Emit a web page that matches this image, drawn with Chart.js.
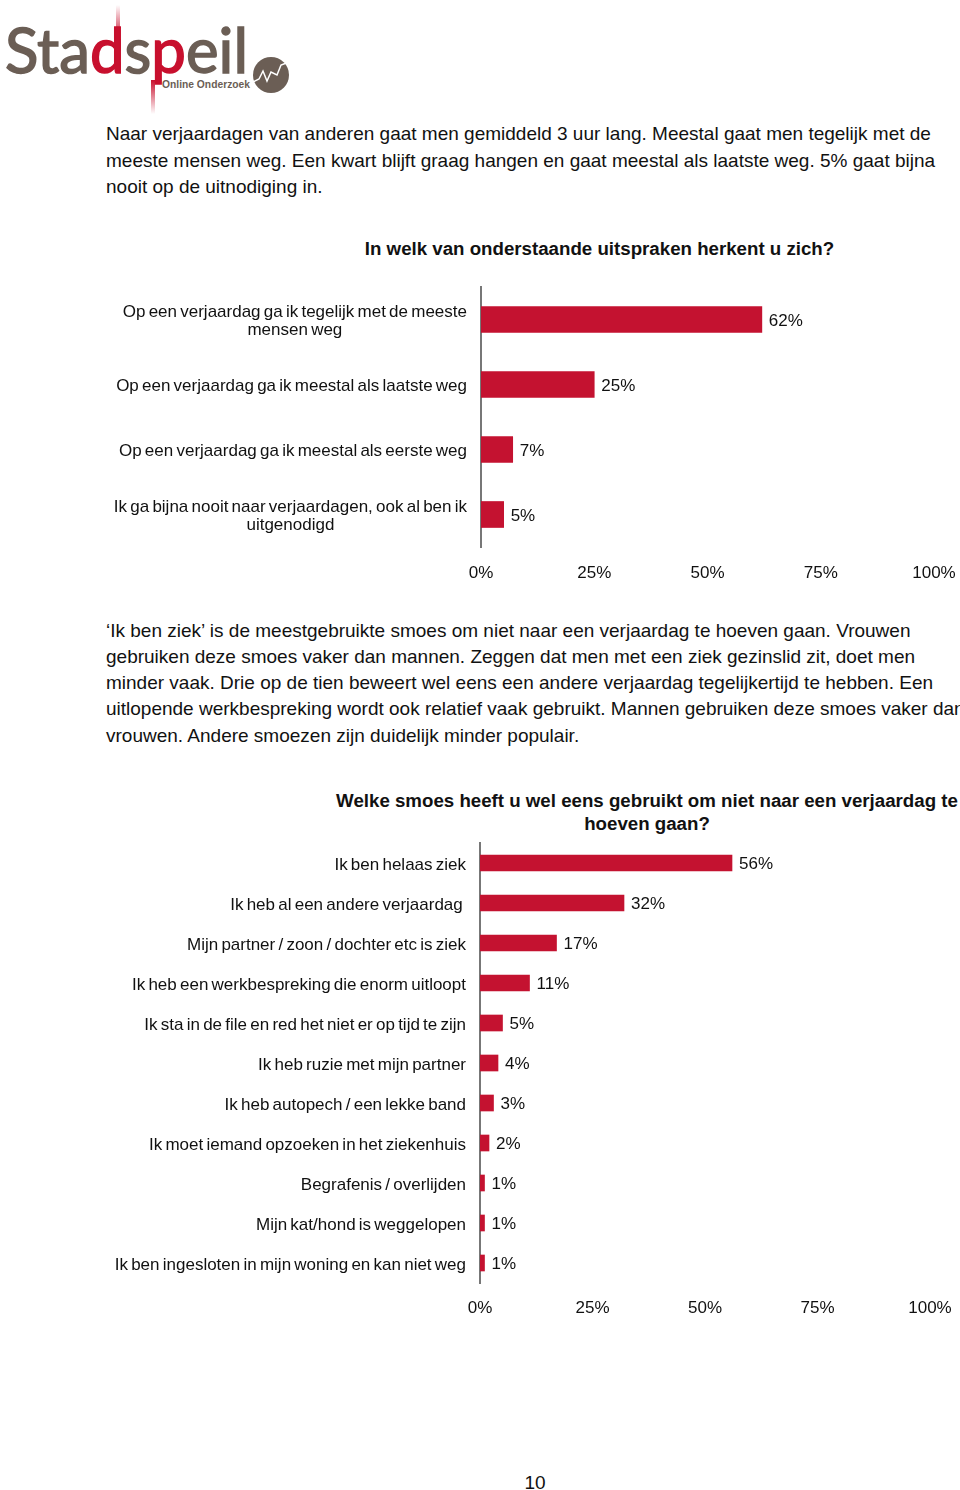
<!DOCTYPE html>
<html><head><meta charset="utf-8">
<script src="https://cdn.jsdelivr.net/npm/chart.js@4.4.1/dist/chart.umd.min.js"></script>
<style>
html,body{margin:0;padding:0;background:#fff;}
body{width:960px;height:1490px;position:relative;overflow:hidden;font-family:"Liberation Sans",Arial,sans-serif;color:#111;}
.ln{position:absolute;left:106px;white-space:nowrap;font-size:19px;line-height:26px;}
.ttl{position:absolute;white-space:nowrap;font-weight:bold;font-size:18.7px;line-height:22px;transform:translateX(-50%);}
canvas{position:absolute;left:0;}
</style></head><body>
<svg style="position:absolute;left:0;top:0" width="300" height="120" viewBox="0 0 300 120">
<defs>
<linearGradient id="gUp" x1="0" y1="0" x2="0" y2="1"><stop offset="0" stop-color="#c8102e" stop-opacity="0"/><stop offset="1" stop-color="#c8102e"/></linearGradient>
<linearGradient id="gDn" x1="0" y1="0" x2="0" y2="1"><stop offset="0" stop-color="#c8102e"/><stop offset="1" stop-color="#c8102e" stop-opacity="0"/></linearGradient>
</defs>
<rect x="116" y="5" width="4" height="35" fill="url(#gUp)"/>
<rect x="151" y="80" width="4" height="34" fill="url(#gDn)"/>
<text x="5" y="73" font-family="Lato" font-size="62" fill="#6b5e55" stroke="#6b5e55" stroke-width="1.5" textLength="243" lengthAdjust="spacingAndGlyphs">Sta<tspan fill="#c8102e" stroke="#c8102e">d</tspan>s<tspan fill="#c8102e" stroke="#c8102e">p</tspan>eil</text>
<text x="162" y="88" font-family="Liberation Sans Narrow, Liberation Sans" font-weight="bold" font-size="11" fill="#6b5e55" textLength="88" lengthAdjust="spacingAndGlyphs">Online Onderzoek</text>
<circle cx="271" cy="75" r="18" fill="#6b5e55"/>
<polyline points="253,82 259,79 263,71 267,81 271,72 277,75 281,65 289,62" fill="none" stroke="#fff" stroke-width="1.5"/>
</svg>

<div class="ln" style="top:121px">Naar verjaardagen van anderen gaat men gemiddeld 3 uur lang. Meestal gaat men tegelijk met de</div>
<div class="ln" style="top:148px">meeste mensen weg. Een kwart blijft graag hangen en gaat meestal als laatste weg. 5% gaat bijna</div>
<div class="ln" style="top:174px">nooit op de uitnodiging in.</div>

<div class="ttl" style="left:599.5px;top:237.5px">In welk van onderstaande uitspraken herkent u zich?</div>

<canvas id="c1" width="960" height="310" style="top:280px"></canvas>

<div class="ln" style="top:618px">‘Ik ben ziek’ is de meestgebruikte smoes om niet naar een verjaardag te hoeven gaan. Vrouwen</div>
<div class="ln" style="top:644px">gebruiken deze smoes vaker dan mannen. Zeggen dat men met een ziek gezinslid zit, doet men</div>
<div class="ln" style="top:670px">minder vaak. Drie op de tien beweert wel eens een andere verjaardag tegelijkertijd te hebben. Een</div>
<div class="ln" style="top:696px">uitlopende werkbespreking wordt ook relatief vaak gebruikt. Mannen gebruiken deze smoes vaker dan</div>
<div class="ln" style="top:723px">vrouwen. Andere smoezen zijn duidelijk minder populair.</div>

<div class="ttl" style="left:647px;top:789.5px">Welke smoes heeft u wel eens gebruikt om niet naar een verjaardag te</div>
<div class="ttl" style="left:647px;top:812.5px">hoeven gaan?</div>

<canvas id="c2" width="960" height="490" style="top:835px"></canvas>

<div class="ln" style="left:535px;top:1470px;transform:translateX(-50%)">10</div>

<script>
const q1Labels = [
  ["Op een verjaardag ga ik tegelijk met de meeste", "mensen weg"],
  "Op een verjaardag ga ik meestal als laatste weg",
  "Op een verjaardag ga ik meestal als eerste weg",
  ["Ik ga bijna nooit naar verjaardagen, ook al ben ik", "uitgenodigd"]
];
const q1Values = [62, 25, 7, 5];

const q2Labels = [
  "Ik ben helaas ziek",
  "Ik heb al een andere verjaardag ",
  "Mijn partner / zoon / dochter etc is ziek",
  "Ik heb een werkbespreking die enorm uitloopt",
  "Ik sta in de file en red het niet er op tijd te zijn",
  "Ik heb ruzie met mijn partner",
  "Ik heb autopech / een lekke band",
  "Ik moet iemand opzoeken in het ziekenhuis",
  "Begrafenis / overlijden",
  "Mijn kat/hond is weggelopen",
  "Ik ben ingesloten in mijn woning en kan niet weg"
];
const q2Values = [56, 32, 17, 11, 5, 4, 3, 2, 1, 1, 1];

const xTickValues = [0, 25, 50, 75, 100];

const RED = '#C41230';
const FONT = '"Liberation Sans", Arial, sans-serif';
const TXT = '#111';

const yLabelPlugin = {
  id: 'yLabels',
  afterDraw(chart) {
    const ctx = chart.ctx, ys = chart.scales.y;
    ctx.save();
    ctx.font = '17px ' + FONT;
    ctx.fillStyle = TXT;
    if ('wordSpacing' in ctx) ctx.wordSpacing = '-1.5px';
    ctx.textAlign = 'center';
    ctx.textBaseline = 'middle';
    const right = ys.right - 14;
    chart.data.labels.forEach((lab, i) => {
      const lines = Array.isArray(lab) ? lab : [lab];
      const w = Math.max(...lines.map(l => ctx.measureText(l).width));
      const cx = right - w / 2;
      const y0 = ys.getPixelForTick(i) + 2 - (lines.length - 1) * 18 / 2;
      lines.forEach((l, j) => ctx.fillText(l, cx, y0 + j * 18));
    });
    ctx.restore();
  }
};

const valuePlugin = {
  id: 'values',
  afterDatasetsDraw(chart) {
    const ctx = chart.ctx;
    const meta = chart.getDatasetMeta(0);
    const vals = chart.data.datasets[0].data;
    ctx.save();
    ctx.font = '17px ' + FONT;
    ctx.fillStyle = TXT;
    ctx.textAlign = 'left';
    ctx.textBaseline = 'middle';
    meta.data.forEach((el, i) => {
      ctx.fillText(vals[i] + '%', el.x + 7, el.y + 1.5);
    });
    ctx.restore();
  }
};

function makeChart(id, labels, values, o) {
  return new Chart(document.getElementById(id), {
    type: 'bar',
    data: { labels: labels, datasets: [{ data: values, backgroundColor: RED, borderWidth: 0, barThickness: o.barTh }] },
    options: {
      indexAxis: 'y', responsive: false, animation: false, devicePixelRatio: 1,
      layout: { padding: { left: 0, right: o.rightPad, top: o.topPad, bottom: 0 } },
      plugins: { legend: { display: false }, tooltip: { enabled: false } },
      scales: {
        x: {
          min: 0, max: 100,
          afterBuildTicks: s => { s.ticks = xTickValues.map(v => ({ value: v })); },
          grid: { display: false, drawTicks: false },
          border: { display: false },
          ticks: { padding: o.tickPad, color: TXT, font: { family: FONT, size: 17 }, callback: v => v + '%', maxRotation: 0, autoSkip: false },
          afterFit: s => { s.height = o.xAxisH; s.paddingLeft = 0; s.paddingRight = 0; }
        },
        y: {
          grid: { display: false },
          border: { display: true, color: '#777', width: 2 },
          ticks: { display: false },
          afterFit: s => { s.width = o.axisX; s.paddingTop = 0; s.paddingBottom = 0; }
        }
      }
    },
    plugins: [yLabelPlugin, valuePlugin]
  });
}

makeChart('c1', q1Labels, q1Values, { axisX: 481, rightPad: 26, topPad: 7, xAxisH: 43, tickPad: 16, barTh: 26 });
makeChart('c2', q2Labels, q2Values, { axisX: 480, rightPad: 30, topPad: 8, xAxisH: 42, tickPad: 15, barTh: 16 });
</script>
</body></html>
